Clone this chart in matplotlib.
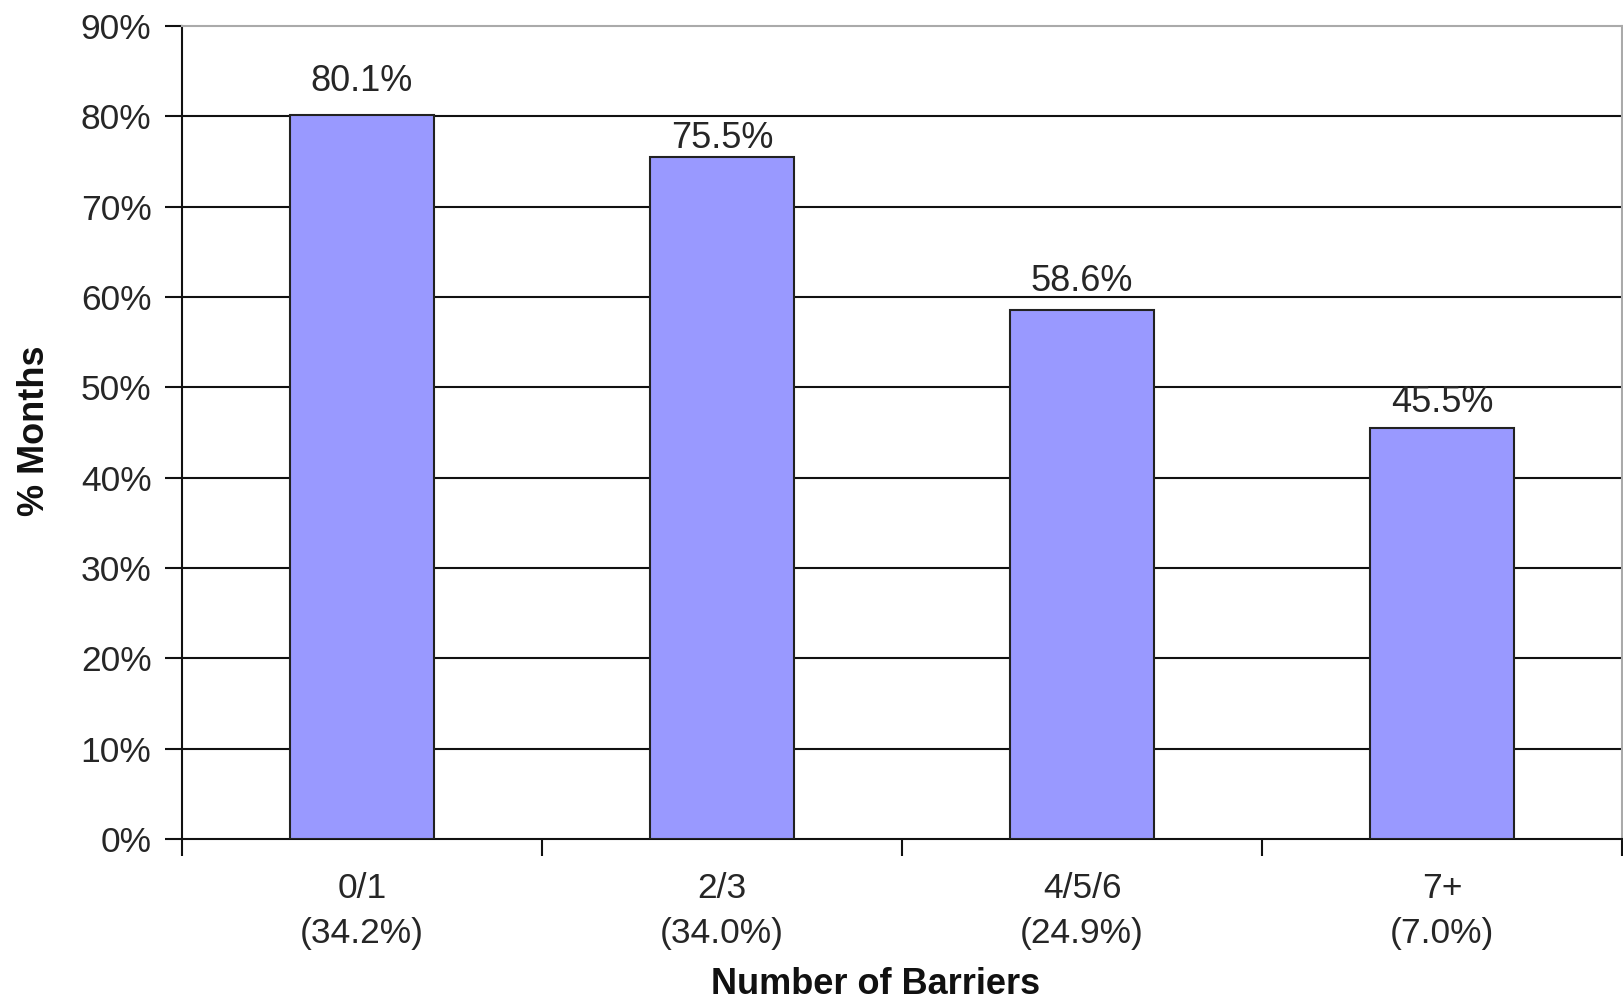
import matplotlib
matplotlib.use("Agg")
import matplotlib.pyplot as plt
import numpy as np

plt.rcParams['font.family'] = ['Liberation Sans', 'DejaVu Sans']

# Data
categories = ["0/1", "2/3", "4/5/6", "7+"]
category_shares = ["34.2%", "34.0%", "24.9%", "7.0%"]
pct_months = [80.1, 75.5, 58.6, 45.5]
y_ticks = [0, 10, 20, 30, 40, 50, 60, 70, 80, 90]

# Vertical offset (points) of each value label above its bar
label_offsets = [12, 1, 8, 6]

TEXT = "#262626"
FS = 25.5

fig = plt.figure(figsize=(16.23, 10.01), dpi=100)
ax = fig.add_axes([182 / 1623, 1 - 839 / 1001, 1440 / 1623, 813 / 1001])

x = np.arange(len(categories))
bars = ax.bar(x, pct_months, width=0.4, color="#9999FF",
              edgecolor="#222222", linewidth=1.5, zorder=3)

for xi, v, off in zip(x, pct_months, label_offsets):
    ax.annotate(f"{v:.1f}%", (xi, v), xytext=(0, off), textcoords="offset points",
                ha="center", va="bottom", fontsize=FS + 0.5, color=TEXT, zorder=4)

ax.set_xlim(-0.5, len(categories) - 0.5)
ax.set_ylim(0, 90)

# horizontal gridlines
ax.set_yticks(y_ticks)
ax.set_yticklabels([f"{t}%" for t in y_ticks])
for t in y_ticks[1:-1]:
    ax.axhline(t, color="#111111", linewidth=1.5, zorder=1)

# category boundaries carry the ticks; labels sit at the centres
ax.set_xticks(np.arange(len(categories) + 1) - 0.5)
ax.set_xticklabels([])
ax.set_xticks(x, minor=True)
ax.set_xticklabels([f"{c}\n({s})" for c, s in zip(categories, category_shares)],
                   minor=True, fontsize=FS, color=TEXT, linespacing=1.45)
ax.tick_params(axis="x", which="minor", length=0, pad=24)
ax.tick_params(axis="x", which="major", length=12, width=1.5, color="#111111",
               direction="out")
ax.tick_params(axis="y", length=12, width=1.5, color="#111111", pad=10,
               labelsize=FS, labelcolor=TEXT)

for side in ["left", "bottom"]:
    ax.spines[side].set_color("#111111")
    ax.spines[side].set_linewidth(1.5)
for side in ["top", "right"]:
    ax.spines[side].set_color("#AAAAAA")
    ax.spines[side].set_linewidth(1.5)

ax.set_xlabel("Number of Barriers", fontsize=26, fontweight="bold", color="#111111",
              va="center")
ax.xaxis.set_label_coords((876 - 182) / 1440, -(984 - 839) / 813)
ax.set_ylabel("% Months", fontsize=26, fontweight="bold", color="#111111",
              va="center")
ax.yaxis.set_label_coords(-(182 - 34) / 1440, 0.5 - (430 - 432) / 813)

fig.savefig("out.png", dpi=100)
